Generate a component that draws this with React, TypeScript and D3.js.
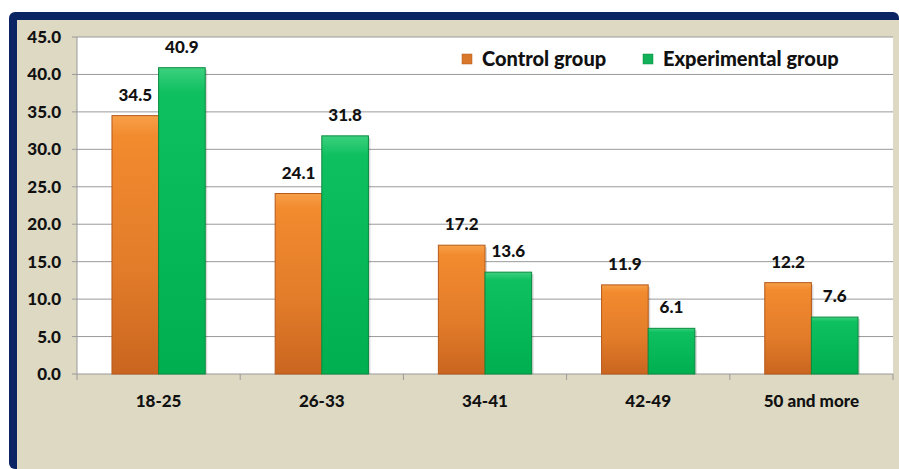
import React from "react";
import * as d3 from "d3";

const categories = ["18-25", "26-33", "34-41", "42-49", "50 and more"];
const controlValues = [34.5, 24.1, 17.2, 11.9, 12.2];
const experimentalValues = [40.9, 31.8, 13.6, 6.1, 7.6];
const seriesNames = ["Control group", "Experimental group"];
const yTicks = [0, 5, 10, 15, 20, 25, 30, 35, 40, 45];

const W = 899;
const H = 469;
const plot = { left: 77, right: 893, top: 37, bottom: 374 };
const FONT = "Lato, 'Open Sans', sans-serif";

export default function App() {
  const x0 = d3.scaleBand<string>().domain(categories).range([plot.left, plot.right]).paddingInner(0).paddingOuter(0);
  const x1 = d3.scaleBand<string>().domain(seriesNames).range([0, x0.bandwidth()]).paddingOuter(0.75).paddingInner(0);
  const y = d3.scaleLinear().domain([0, 45]).range([plot.bottom, plot.top]);
  const series = [controlValues, experimentalValues];
  const grads = ["gOrange", "gGreen"];
  const strokes = ["#B5591A", "#0A8A3E"];
  const legendSwatch = ["#D9782B", "#13B05A"];

  return (
    <svg width={W} height={H} style={{ position: "absolute", left: 0, top: 0, background: "#fff" }}>
      <defs>
        <linearGradient id="gOrange" x1="0" y1="0" x2="0" y2="1">
          <stop offset="0" stopColor="#F7A048" />
          <stop offset="0.08" stopColor="#F28A2E" />
          <stop offset="0.6" stopColor="#E27C2A" />
          <stop offset="1" stopColor="#C9651F" />
        </linearGradient>
        <linearGradient id="gGreen" x1="0" y1="0" x2="0" y2="1">
          <stop offset="0" stopColor="#3CD07E" />
          <stop offset="0.08" stopColor="#0FC060" />
          <stop offset="1" stopColor="#00B050" />
        </linearGradient>
      </defs>
      <rect x={9} y={12} width={W - 9} height={H - 12} rx={6} fill="#0B2463" />
      <rect x={17} y={20} width={W - 17} height={H - 20} fill="#DDD9C3" />
      <rect x={plot.left} y={plot.top} width={plot.right - plot.left} height={plot.bottom - plot.top} fill="#fff" />
      {yTicks.map((t) => (
        <g key={t}>
          <line x1={plot.left - 5} x2={plot.right} y1={y(t)} y2={y(t)} stroke="#9A9A9A" strokeWidth={1} />
          <text x={61} y={y(t)} dy="0.35em" textAnchor="end" fontFamily={FONT} fontWeight={900} fontSize={17} fill="#111">
            {t.toFixed(1)}
          </text>
        </g>
      ))}
      <line x1={plot.left} x2={plot.left} y1={plot.top} y2={plot.bottom + 6} stroke="#9A9A9A" />
      {categories.map((c) => (
        <line key={c} x1={x0(c)! + x0.bandwidth()} x2={x0(c)! + x0.bandwidth()} y1={plot.bottom} y2={plot.bottom + 6} stroke="#9A9A9A" />
      ))}
      {categories.map((c, i) => (
        <g key={c}>
          {series.map((vals, s) => {
            const bx = x0(c)! + x1(seriesNames[s])!;
            const bw = x1.bandwidth();
            const by = y(vals[i]);
            return (
              <g key={s}>
                <rect x={bx + 2} y={by + 2} width={bw} height={plot.bottom - by - 2} fill="rgba(0,0,0,0.15)" />
                <rect x={bx} y={by} width={bw} height={plot.bottom - by} fill={`url(#${grads[s]})`} stroke={strokes[s]} strokeWidth={1} />
                <text x={bx + bw / 2} y={by - 15} textAnchor="middle" fontFamily={FONT} fontWeight={900} fontSize={17} fill="#111">
                  {vals[i].toFixed(1)}
                </text>
              </g>
            );
          })}
          <text x={x0(c)! + x0.bandwidth() / 2} y={401} dy="0.35em" textAnchor="middle" fontFamily={FONT} fontWeight={900} fontSize={17} fill="#111">
            {c}
          </text>
        </g>
      ))}
      {seriesNames.map((n, s) => {
        const lx = [462, 643][s];
        return (
          <g key={n}>
            <rect x={lx} y={54} width={10} height={10} fill={legendSwatch[s]} stroke={strokes[s]} strokeWidth={0.5} />
            <text x={lx + 20} y={59} dy="0.35em" fontFamily={FONT} fontWeight={900} fontSize={20} fill="#111">
              {n}
            </text>
          </g>
        );
      })}
    </svg>
  );
}
